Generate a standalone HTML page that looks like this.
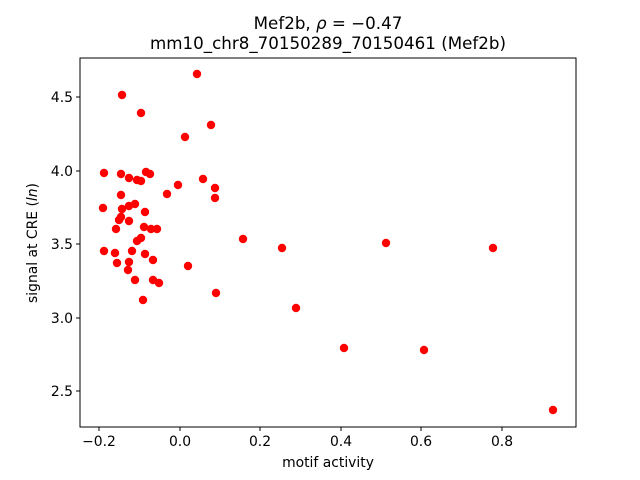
<!DOCTYPE html>
<html><head><style>body{margin:0;background:#fff}svg{display:block}text{font-family:"DejaVu Sans","Liberation Sans",sans-serif;fill:#000}</style></head>
<body>
<svg width="640" height="480" xmlns="http://www.w3.org/2000/svg">
<rect width="640" height="480" fill="#fff"/>
<g fill="#ff0000">
<circle cx="197" cy="74" r="4.2"/><circle cx="122" cy="95" r="4.2"/><circle cx="141" cy="113" r="4.2"/><circle cx="211" cy="125" r="4.2"/><circle cx="185" cy="137" r="4.2"/>
<circle cx="104" cy="173" r="4.2"/><circle cx="121" cy="174" r="4.2"/><circle cx="146" cy="172" r="4.2"/><circle cx="150" cy="174" r="4.2"/><circle cx="203" cy="179" r="4.2"/>
<circle cx="129" cy="178" r="4.2"/><circle cx="137" cy="180" r="4.2"/><circle cx="141" cy="181" r="4.2"/><circle cx="178" cy="185" r="4.2"/><circle cx="215" cy="188" r="4.2"/>
<circle cx="167" cy="194" r="4.2"/><circle cx="121" cy="195" r="4.2"/><circle cx="215" cy="198" r="4.2"/><circle cx="103" cy="208" r="4.2"/><circle cx="122" cy="209" r="4.2"/>
<circle cx="135" cy="204" r="4.2"/><circle cx="129" cy="206" r="4.2"/><circle cx="145" cy="212" r="4.2"/><circle cx="119" cy="220" r="4.2"/><circle cx="121" cy="217" r="4.2"/><circle cx="144" cy="227" r="4.2"/>
<circle cx="129" cy="221" r="4.2"/><circle cx="116" cy="229" r="4.2"/><circle cx="151" cy="229" r="4.2"/><circle cx="157" cy="229" r="4.2"/><circle cx="137" cy="241" r="4.2"/>
<circle cx="141" cy="238" r="4.2"/><circle cx="243" cy="239" r="4.2"/><circle cx="282" cy="248" r="4.2"/><circle cx="386" cy="243" r="4.2"/><circle cx="493" cy="248" r="4.2"/>
<circle cx="104" cy="251" r="4.2"/><circle cx="115" cy="253" r="4.2"/><circle cx="132" cy="251" r="4.2"/><circle cx="145" cy="254" r="4.2"/><circle cx="117" cy="263" r="4.2"/>
<circle cx="153" cy="260" r="4.2"/><circle cx="129" cy="262" r="4.2"/><circle cx="188" cy="266" r="4.2"/><circle cx="128" cy="270" r="4.2"/><circle cx="135" cy="280" r="4.2"/>
<circle cx="153" cy="280" r="4.2"/><circle cx="159" cy="283" r="4.2"/><circle cx="143" cy="300" r="4.2"/><circle cx="216" cy="293" r="4.2"/><circle cx="296" cy="308" r="4.2"/>
<circle cx="344" cy="348" r="4.2"/><circle cx="424" cy="350" r="4.2"/><circle cx="553" cy="410" r="4.2"/>
</g>
<rect x="80" y="58" width="496" height="369" fill="none" stroke="#000" stroke-width="1"/>
<g stroke="#000">
<line x1="99" y1="427" x2="99" y2="431"/><line x1="180" y1="427" x2="180" y2="431"/><line x1="260" y1="427" x2="260" y2="431"/><line x1="341" y1="427" x2="341" y2="431"/><line x1="421" y1="427" x2="421" y2="431"/><line x1="502" y1="427" x2="502" y2="431"/>
<line x1="76" y1="391" x2="80" y2="391"/><line x1="76" y1="318" x2="80" y2="318"/><line x1="76" y1="244" x2="80" y2="244"/><line x1="76" y1="171" x2="80" y2="171"/><line x1="76" y1="97" x2="80" y2="97"/>
</g>
<g font-size="13.9" text-anchor="middle">
<text x="99" y="446">−0.2</text><text x="180" y="446">0.0</text><text x="260" y="446">0.2</text><text x="341" y="446">0.4</text><text x="421" y="446">0.6</text><text x="502" y="446">0.8</text>
</g>
<g font-size="13.9" text-anchor="end">
<text x="73" y="396">2.5</text><text x="73" y="323">3.0</text><text x="73" y="249">3.5</text><text x="73" y="176">4.0</text><text x="73" y="102">4.5</text>
</g>
<text x="328" y="467" font-size="13.9" text-anchor="middle">motif activity</text>
<text transform="translate(37,243) rotate(-90)" font-size="13.9" text-anchor="middle">signal at CRE (<tspan font-style="italic">ln</tspan>)</text>
<text x="328" y="29" font-size="16.7" text-anchor="middle">Mef2b, <tspan font-style="italic">ρ</tspan> = −0.47</text>
<text x="328" y="49" font-size="16.7" text-anchor="middle">mm10_chr8_70150289_70150461 (Mef2b)</text>
</svg>
</body></html>
